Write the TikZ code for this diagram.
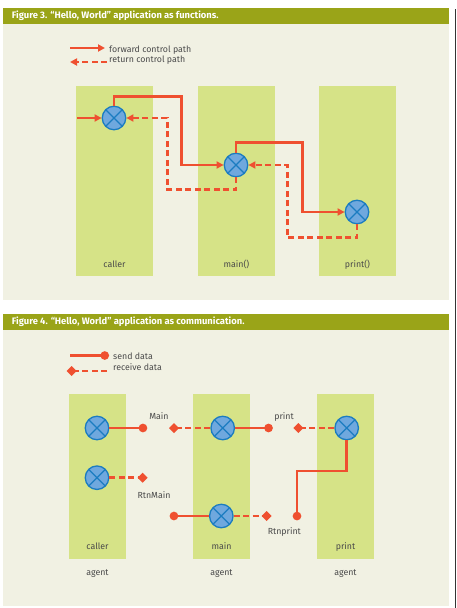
\documentclass[tikz,border=0pt]{standalone}
\usepackage{fontspec}
\setmainfont{Fira Sans}
\usepackage{xcolor}
\usetikzlibrary{arrows.meta, positioning, calc}

\definecolor{headbar}{HTML}{9AA418}
\definecolor{panelbg}{HTML}{F1F1E3}
\definecolor{colgreen}{HTML}{D6E387}
\definecolor{flowred}{HTML}{EF5030}
\definecolor{ballfill}{HTML}{6FA8DE}
\definecolor{ballline}{HTML}{1B7CC1}
\definecolor{txtgray}{HTML}{4A4A4A}

\begin{document}
\begin{tikzpicture}[
    x=1pt, y=-1pt,
    panel/.style={fill=panelbg, draw=none},
    headbox/.style={fill=headbar, draw=none},
    title/.style={anchor=west, text=white, font=\bfseries\fontsize{9.4}{11}\selectfont, inner sep=0pt},
    col/.style={rectangle, fill=colgreen, draw=none, minimum width=77pt, minimum height=190pt, inner sep=0pt},
    agentcol/.style={rectangle, fill=colgreen, draw=none, minimum width=57pt, minimum height=165pt, inner sep=0pt},
    lbl/.style={text=txtgray, font=\fontsize{8.8}{10}\selectfont, inner sep=0pt, text height=6.6pt, text depth=1.6pt},
    legend/.style={lbl, anchor=west},
    ball/.style={circle, fill=ballfill, draw=ballline, line width=1.3pt, minimum size=23.5pt, inner sep=0pt,
        path picture={\draw[ballline, line width=1.3pt]
            (path picture bounding box.north west) -- (path picture bounding box.south east)
            (path picture bounding box.north east) -- (path picture bounding box.south west);}},
    fwd/.style={draw=flowred, line width=2.6pt, -{Triangle[length=7pt, width=7pt]}},
    ret/.style={fwd, dash pattern=on 6pt off 3.5pt},
    send/.style={draw=flowred, line width=2.6pt},
    recv/.style={send, dash pattern=on 6pt off 3.5pt},
    dot/.style={-{Circle[length=8.5pt, fill=flowred]}},
    gem/.style={-{Diamond[length=10pt, width=10pt, fill=flowred]}}
]
\useasboundingbox[fill=white] (0,0) rectangle (457,608);
\draw[txtgray!70!black, line width=1.5pt] (455.3,9) -- (455.3,608);

% Figure 3 panel
\fill[panel] (3,8) rectangle (449,300);
\fill[headbox] (3,8) rectangle (449,24);
\node[title] (title3) at (11.7,16) {Figure 3. “Hello, World” application as functions.};

% Legend
\coordinate (f1) at (70,48);
\coordinate (f2) at (105,48);
\coordinate (r1) at (107,62);
\coordinate (r2) at (70,62);
\draw[fwd] (f1) -- (f2);
\draw[ret] (r1) -- (r2);
\node[legend] (lfwd) at (109,50) {forward control path};
\node[legend] (lret) at (109,60) {return control path};

% Columns
\node[col] (caller3) at (114.5,181) {};
\node[col] (main3) at (236.5,181) {};
\node[col] (print3) at (357.5,181) {};
\node[lbl, above=6.8pt of caller3.south] {caller};
\node[lbl, above=6.8pt of main3.south] {main()};
\node[lbl, above=6.8pt of print3.south] {print()};

% Nodes
\node[ball] (c3caller) at (114,118) {};
\node[ball] (c3main) at (236,165) {};
\node[ball] (c3print) at (357,212) {};
\coordinate (entry) at (77,118);

% Arrows
\draw[fwd] (entry) -- (c3caller);
\draw[fwd] (c3caller.north) -- ++(0,-9) -| ([xshift=-42pt]c3main.west) -- (c3main);
\draw[fwd] (c3main.north) -- ++(0,-10) -| ([xshift=-42pt]c3print.west) -- (c3print);
\draw[ret] (c3main.south) -- ++(0,12) -| ([xshift=41pt]c3caller.east) -- (c3caller);
\draw[ret] (c3print.south) -- ++(0,13) -| ([xshift=39pt]c3main.east) -- (c3main);

% Figure 4 panel
\fill[panel] (3,314) rectangle (449,605.7);
\fill[headbox] (3,314) rectangle (449,330);
\node[title] (title4) at (11.7,322) {Figure 4. “Hello, World” application as communication.};

% Legend
\coordinate (s1) at (70,355.5);
\coordinate (s2) at (109,355.5);
\coordinate (d1) at (66.7,371);
\coordinate (d2) at (107,371);
\draw[send, dot] (s1) -- (s2);
\draw[recv, gem] (d2) -- (d1);
\node[legend] (lsend) at (113,357) {send data};
\node[legend] (lrecv) at (113,367.5) {receive data};

% Columns
\node[agentcol] (caller4) at (97.5,476.5) {};
\node[agentcol] (main4) at (221.5,476.5) {};
\node[agentcol] (print4) at (345.5,476.5) {};
\foreach \c/\t in {caller4/caller, main4/main, print4/print}{
    \node[lbl, above=8pt of \c.south] {\t};
    \node[lbl, below=9pt of \c.south] {agent};
}

% Nodes
\node[ball] (a1) at (97,428) {};
\node[ball] (a2) at (97,477.7) {};
\node[ball] (m1) at (222.7,428) {};
\node[ball] (m2) at (221.3,516) {};
\node[ball] (p1) at (346.7,428) {};
\coordinate (sMain) at (147.2,428);
\coordinate (rMain) at (169,428);
\coordinate (sPrint) at (272.8,428);
\coordinate (rPrint) at (293.3,428);
\coordinate (rRtnMain) at (147.7,477.7);
\coordinate (sRtnMain) at (169.7,516);
\coordinate (rRtnPrint) at (271.7,516);
\coordinate (sRtnPrint) at (297,520.3);

% Arrows
\draw[send, dot] (a1) -- (sMain);
\draw[recv, gem] (m1) -- (rMain);
\draw[send, dot] (m1) -- (sPrint);
\draw[recv, gem] (p1) -- (rPrint);
\draw[send, dot] (p1.south) -- ++(0,30.7) -| (sRtnPrint);
\draw[recv, gem] (a2) -- (rRtnMain);
\draw[send, dot] (m2) -- (sRtnMain);
\draw[recv, gem] (m2) -- (rRtnPrint);

% Labels
\node[lbl] at (159,416.7) {Main};
\node[lbl] at (284,416.7) {print};
\node[lbl] at (154,495.7) {RtnMain};
\node[lbl] at (284.3,532) {Rtnprint};

\end{tikzpicture}
\end{document}
